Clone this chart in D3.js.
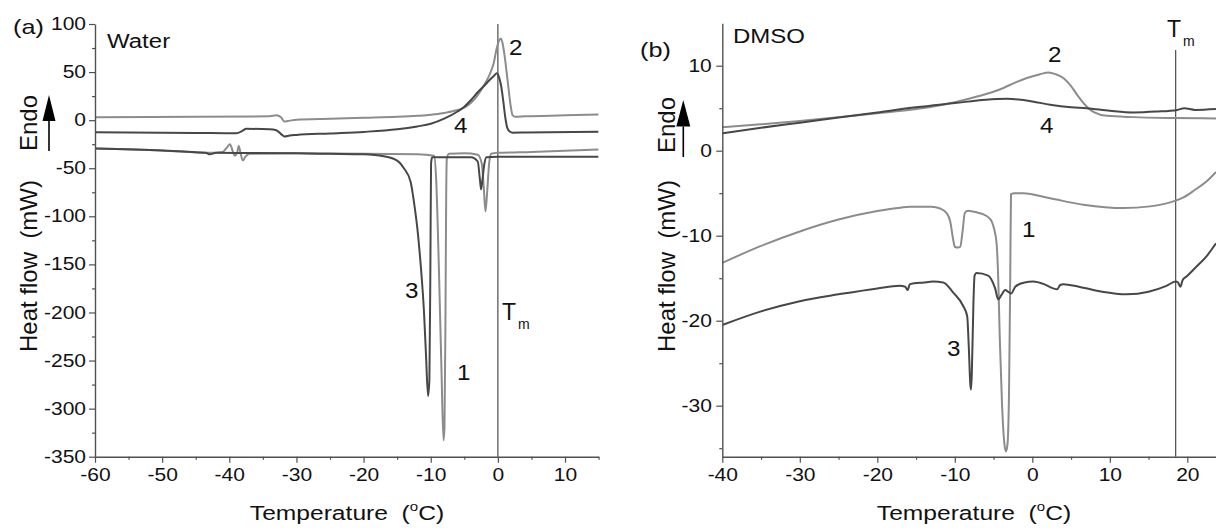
<!DOCTYPE html>
<html>
<head>
<meta charset="utf-8">
<script src="https://cdn.jsdelivr.net/npm/d3@7"></script>
<style>
  html, body { margin: 0; padding: 0; background: #fff; }
  svg { display: block; font-family: "Liberation Sans", Arial, sans-serif; }
  svg text { white-space: pre; }
</style>
</head>
<body>
<svg id="chart" width="1216" height="528"></svg>
<script>
// ---------- (a) Water: DSC traces, temperature (°C) and heat flow (mW) ----------
const waterT1 = [-60, -50, -43, -41, -40.3, -39.9, -39.5, -39.2, -38.8, -38.6, -38.3, -38, -37.6, -37, -30, -20, -12, -9.5, -9.2, -8.8, -8.4, -8.1, -7.95, -7.8, -7.7, -7.6, -7.3, -5, -3, -2.4, -2.1, -1.85, -1.6, -1.3, -1, 0, 5, 15];
const waterQ1 = [-29.5, -31.5, -34, -33, -28, -25, -32, -37, -33, -27, -35, -42, -38, -35, -34.5, -35, -35.5, -37, -60, -150, -260, -333, -320, -200, -80, -40, -35, -34.5, -36, -45, -70, -95, -75, -45, -35, -34, -33, -30.5];

const waterT2 = [-60, -45, -34, -33, -32.3, -31.8, -31, -30, -25, -20, -15, -12, -10, -8, -6, -5, -4, -3, -2, -1.2, -0.6, -0.2, 0.2, 0.45, 0.7, 1.0, 1.3, 1.6, 1.9, 2.2, 2.6, 4, 10, 15];
const waterQ2 = [3, 3.5, 4, 5, 3, -1.5, -0.5, 0.5, 1.5, 2.5, 3.5, 4.5, 5.5, 7.5, 10.5, 13, 18, 26, 37, 48, 60, 74, 83, 85, 80, 67, 50, 32, 15, 5, 3.5, 4, 5, 6];

const waterT3 = [-60, -50, -43.5, -42.9, -42, -30, -25, -20, -17, -15, -14, -13, -12.4, -12, -11.5, -11, -10.7, -10.4, -10.2, -10.05, -9.95, -9.8, -4, -3, -2.7, -2.5, -2.3, -2, -1.7, 0, 15];
const waterQ3 = [-29.5, -31.5, -34, -35.5, -34, -34.5, -35, -35.5, -37.5, -42, -50, -64, -90, -112, -150, -200, -245, -287, -270, -150, -45, -38.6, -38.6, -43, -60, -72, -62, -45, -38.5, -38, -38];

const waterT4 = [-60, -45, -39, -38, -37.5, -34, -33, -32.2, -31.8, -31, -30, -25, -20, -15, -12, -10, -8, -6, -5, -4, -3, -2, -1.2, -0.6, -0.15, 0.2, 0.5, 0.8, 1.1, 1.4, 1.8, 2.2, 4, 15];
const waterQ4 = [-12.7, -13.3, -13.7, -11, -9, -9.5, -10.5, -15, -17, -16, -15.4, -13.8, -12.2, -9.5, -6.5, -3.8, 1.5, 9, 14, 21, 29, 36, 42, 46, 48.7, 44, 35, 20, 3, -8, -12, -13, -12.8, -12];

// ---------- (b) DMSO ----------
const dmsoT1 = [-40, -35, -30, -25, -20, -17, -15.8, -13, -11.9, -11, -10.6, -10.2, -10, -9.6, -9.3, -9, -8.7, -8.3, -7, -6.3, -5.6, -5.2, -4.9, -4.6, -4.4, -4.2, -3.9, -3.6, -3.4, -3.2, -3.0, -2.85, -2.75, -2.3, -1.2, 2.3, 6.6, 11.7, 15.2, 18.4, 19.5, 21, 22.5, 23.7];
const dmsoQ1 = [-13.2, -11.2, -9.5, -8.1, -7.1, -6.7, -6.6, -6.6, -6.8, -7.4, -8.3, -10.5, -11.3, -11.4, -11.3, -9.5, -7.3, -7.06, -7.3, -7.5, -7.9, -8.4, -9.3, -11, -15, -22, -30, -34.5, -35.4, -34.5, -28, -15, -5.1, -5.0, -5.0, -5.6, -6.35, -6.75, -6.55, -5.9, -5.5, -4.6, -3.6, -2.5];

const dmsoT2 = [-40, -35, -30, -25, -20, -15, -10, -7, -4.2, -2, -0.7, 1, 2.1, 3, 4, 5, 6, 7, 8, 9.6, 13, 18, 23.7];
const dmsoQ2 = [2.75, 3.1, 3.5, 3.95, 4.4, 4.9, 5.7, 6.4, 7.2, 8.1, 8.55, 9.0, 9.2, 9.0, 8.55, 7.6, 6.3, 5.2, 4.5, 4.1, 3.95, 3.85, 3.8];

const dmsoT3 = [-40, -35, -30, -25, -20, -17.1, -16.4, -16.1, -15.8, -14, -12.8, -11.5, -10.2, -8.9, -8.4, -8.2, -8.0, -7.9, -7.8, -7.6, -7.45, -7.2, -5.7, -5.2, -4.8, -4.4, -4.0, -3.5, -3.1, -2.7, -2.2, -1, 0.1, 1.5, 2.7, 3.2, 3.6, 4, 6, 9, 12.2, 15, 17.3, 18.5, 18.8, 19.1, 19.4, 19.9, 21, 22.5, 23.7];
const dmsoQ3 = [-20.5, -18.9, -17.7, -16.9, -16.2, -15.9, -16.0, -16.4, -15.7, -15.5, -15.4, -15.5, -16.7, -18.3, -19.5, -23, -27.5, -28.1, -26, -18, -14.7, -14.4, -14.7, -15.3, -16.2, -17.5, -17, -16.4, -16.6, -16.8, -16, -15.5, -15.4, -15.7, -16.2, -16.3, -15.8, -15.7, -16, -16.6, -16.9, -16.6, -15.9, -15.4, -15.5, -16.0, -15.2, -14.8, -13.8, -12.4, -10.9];

const dmsoT4 = [-40, -35, -30, -25, -20, -15, -10, -6, -3.3, 0, 2.3, 5, 7, 10, 13, 16, 18.7, 19.6, 21, 23.7];
const dmsoQ4 = [2.05, 2.7, 3.3, 3.9, 4.5, 5.1, 5.6, 6.0, 6.1, 5.8, 5.4, 5.1, 5.0, 4.7, 4.5, 4.6, 4.8, 5.0, 4.8, 4.9];

// Axis ticks
const waterXTicks = [-60, -50, -40, -30, -20, -10, 0, 10];
const waterXMinor = [-55, -45, -35, -25, -15, -5, 5, 15];
const waterYTicks = [100, 50, 0, -50, -100, -150, -200, -250, -300, -350];
const waterYMinor = [75, 25, -25, -75, -125, -175, -225, -275, -325];
const dmsoXTicks = [-40, -30, -20, -10, 0, 10, 20];
const dmsoXMinor = [-35, -25, -15, -5, 5, 15];
const dmsoYTicks = [10, 0, -10, -20, -30];
const dmsoYMinor = [5, -5, -15, -25, -35];

// Melting-temperature markers
const waterTm = 0;
const dmsoTm = 18.5;

const LIGHT = "#8c8c8c";
const DARK = "#474747";
const AXIS = "#505050";
const WIDE = 1.2;   // horizontal text runs are set slightly expanded

const svg = d3.select("#chart");

// Stretch a text run along its reading direction by factor k (or to an explicit length)
function widen(sel, k, len) {
  sel.each(function () {
    const w = len || this.getComputedTextLength() * k;
    d3.select(this).attr("textLength", w).attr("lengthAdjust", "spacingAndGlyphs");
  });
}

function toPoints(T, Q) { return T.map((t, i) => [t, Q[i]]); }

const plain = d => String(d);   // hyphen-minus tick labels

function panel(cfg) {
  const g = svg.append("g");
  const x = d3.scaleLinear().domain(cfg.xDomain).range(cfg.xRange);
  const y = d3.scaleLinear().domain(cfg.yDomain).range(cfg.yRange);
  const clipId = "clip-" + cfg.id;
  svg.append("clipPath").attr("id", clipId).append("rect")
    .attr("x", cfg.xRange[0]).attr("y", cfg.yRange[1] - 2)
    .attr("width", cfg.xRange[1] - cfg.xRange[0]).attr("height", cfg.yRange[0] - cfg.yRange[1] + 2);

  // Tm vertical line
  g.append("line")
    .attr("x1", x(cfg.tm)).attr("x2", x(cfg.tm))
    .attr("y1", cfg.tmTop).attr("y2", y(cfg.yDomain[0]))
    .attr("stroke", "#3c3c3c").attr("stroke-width", 1.1);

  const line = d3.line().x(d => x(d[0])).y(d => y(d[1])).curve(d3.curveMonotoneX);
  const plot = g.append("g").attr("clip-path", `url(#${clipId})`);
  cfg.series.forEach(s => {
    plot.append("path")
      .attr("d", line(toPoints(s.T, s.Q)))
      .attr("fill", "none")
      .attr("stroke", s.color)
      .attr("stroke-width", 2)
      .attr("stroke-linejoin", "round");
  });

  // Axes: major and minor ticks
  const xAxis = g.append("g").attr("transform", `translate(0,${cfg.yRange[0]})`)
    .call(d3.axisBottom(x).tickValues(cfg.xTicks).tickSize(6).tickSizeOuter(0).tickPadding(6).tickFormat(plain));
  g.append("g").attr("transform", `translate(0,${cfg.yRange[0]})`)
    .call(d3.axisBottom(x).tickValues(cfg.xMinor).tickSize(3).tickSizeOuter(0).tickFormat(""))
    .select(".domain").remove();
  const yAxis = g.append("g").attr("transform", `translate(${cfg.xRange[0]},0)`)
    .call(d3.axisLeft(y).tickValues(cfg.yTicks).tickSize(6).tickSizeOuter(0).tickPadding(cfg.yPad).tickFormat(plain));
  g.append("g").attr("transform", `translate(${cfg.xRange[0]},0)`)
    .call(d3.axisLeft(y).tickValues(cfg.yMinor).tickSize(3).tickSizeOuter(0).tickFormat(""))
    .select(".domain").remove();

  g.selectAll(".domain").attr("stroke", AXIS).attr("stroke-width", 1.4);
  g.selectAll(".tick line").attr("stroke", AXIS).attr("stroke-width", 1.2);
  [xAxis, yAxis].forEach(a => {
    a.selectAll("text")
      .attr("font-family", "Liberation Sans, Arial, sans-serif")
      .attr("font-size", 17.5)
      .attr("fill", "#111")
      .call(widen, WIDE);
  });

  // X title
  const xt = g.append("text")
    .attr("x", cfg.xTitleX).attr("y", 520)
    .attr("text-anchor", "middle").attr("font-size", 20.5).attr("fill", "#111");
  xt.append("tspan").text("Temperature  (");
  xt.append("tspan").text("o").attr("font-size", 12.5).attr("dy", -9);
  xt.append("tspan").text("C)").attr("dy", 9);
  widen(xt, WIDE);

  // Y title
  g.append("text")
    .attr("transform", `translate(${cfg.yTitleX},266) rotate(-90)`)
    .attr("text-anchor", "middle").attr("font-size", 24).attr("fill", "#111")
    .text("Heat flow  (mW)");

  // Endo marker
  g.append("text")
    .attr("transform", `translate(${cfg.yTitleX},${cfg.endoY}) rotate(-90)`)
    .attr("text-anchor", "middle").attr("font-size", 24).attr("fill", "#111")
    .text("Endo");
  const ax = cfg.arrow;
  g.append("line").attr("x1", ax.x).attr("x2", ax.x).attr("y1", ax.y0).attr("y2", ax.base)
    .attr("stroke", "#000").attr("stroke-width", 1.6);
  g.append("path")
    .attr("d", `M${ax.x},${ax.tip} L${ax.x - ax.hw},${ax.base} L${ax.x + ax.hw},${ax.base} Z`)
    .attr("fill", "#000");

  // Panel label and solvent name
  g.append("text").attr("x", cfg.tag.x).attr("y", cfg.tag.y).attr("font-size", 21).attr("fill", "#111")
    .text(cfg.tag.text).call(widen, WIDE);
  g.append("text").attr("x", cfg.name.x).attr("y", cfg.name.y).attr("font-size", 20).attr("fill", "#111")
    .text(cfg.name.text).call(widen, WIDE);

  // Curve numbers
  cfg.numbers.forEach(n => {
    g.append("text").attr("x", n.x).attr("y", n.y).attr("font-size", 22).attr("fill", "#111")
      .text(n.t).call(widen, 1.1);
  });

  // Tm label
  const tm = g.append("text").attr("x", cfg.tmLabel.x).attr("y", cfg.tmLabel.y)
    .attr("font-size", 23).attr("fill", "#111");
  tm.append("tspan").text("T");
  tm.append("tspan").text("m").attr("font-size", 14).attr("dy", 9).attr("dx", 2);
}

panel({
  id: "water",
  xDomain: [-60, 15], xRange: [95, 598.6],
  yDomain: [-350, 100], yRange: [456.7, 24],
  xTicks: waterXTicks, xMinor: waterXMinor, yTicks: waterYTicks, yMinor: waterYMinor,
  yPad: 3,
  tm: waterTm, tmTop: 24,
  series: [
    { T: waterT1, Q: waterQ1, color: LIGHT },
    { T: waterT3, Q: waterQ3, color: DARK },
    { T: waterT2, Q: waterQ2, color: LIGHT },
    { T: waterT4, Q: waterQ4, color: DARK }
  ],
  xTitleX: 347, yTitleX: 37, endoY: 123,
  arrow: { x: 49, y0: 151, tip: 95, base: 121, hw: 6.5 },
  tag: { x: 13, y: 34, text: "(a)" },
  name: { x: 107, y: 48, text: "Water" },
  numbers: [ { t: "2", x: 509, y: 55 }, { t: "4", x: 454, y: 133 }, { t: "3", x: 405, y: 298 }, { t: "1", x: 457, y: 380 } ],
  tmLabel: { x: 502, y: 320 }
});

panel({
  id: "dmso",
  xDomain: [-40, 23.7], xRange: [722.3, 1216],
  yDomain: [-36, 15], yRange: [456.7, 23.2],
  xTicks: dmsoXTicks, xMinor: dmsoXMinor, yTicks: dmsoYTicks, yMinor: dmsoYMinor,
  yPad: 4.5,
  tm: dmsoTm, tmTop: 50,
  series: [
    { T: dmsoT1, Q: dmsoQ1, color: LIGHT },
    { T: dmsoT3, Q: dmsoQ3, color: DARK },
    { T: dmsoT2, Q: dmsoQ2, color: LIGHT },
    { T: dmsoT4, Q: dmsoQ4, color: DARK }
  ],
  xTitleX: 974, yTitleX: 675, endoY: 125,
  arrow: { x: 683.3, y0: 157, tip: 100, base: 126.5, hw: 7 },
  tag: { x: 640, y: 57, text: "(b)" },
  name: { x: 733, y: 43, text: "DMSO" },
  numbers: [ { t: "2", x: 1048, y: 62 }, { t: "4", x: 1040, y: 133 }, { t: "3", x: 947, y: 356 }, { t: "1", x: 1022, y: 237 } ],
  tmLabel: { x: 1167, y: 37 }
});
</script>
</body>
</html>
